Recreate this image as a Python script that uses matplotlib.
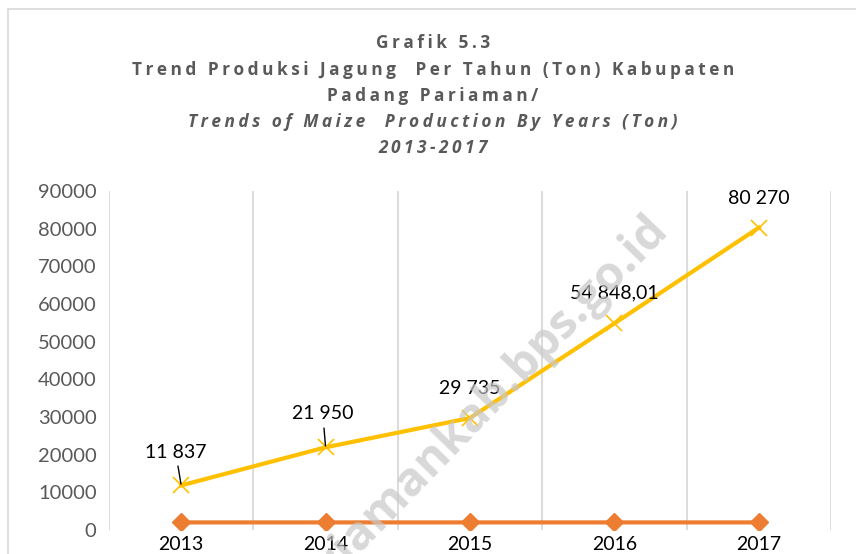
import numpy as np
import matplotlib.pyplot as plt
from matplotlib.patches import Rectangle

years = ['2013', '2014', '2015', '2016', '2017']
production = [11837, 21950, 29735, 54848.01, 80270]
year_series = [2013, 2014, 2015, 2016, 2017]
point_labels = ['11 837', '21 950', '29 735', '54 848,01', '80 270']
yticks = [0, 10000, 20000, 30000, 40000, 50000, 60000, 70000, 80000, 90000]

title_lines = [
    ('Grafik 5.3', 'normal'),
    ('Trend Produksi Jagung  Per Tahun (Ton) Kabupaten', 'normal'),
    ('Padang Pariaman/', 'normal'),
    ('Trends of Maize  Production By Years (Ton)', 'italic'),
    ('2013-2017', 'italic'),
]


def spaced(s):
    # fake letter spacing, excel title style
    return '\u2009'.join(s)


W, H = 856, 554
fig = plt.figure(figsize=(W / 100, H / 100), dpi=100)
ax = fig.add_axes([109 / W, 1 - 530 / H, (831 - 109) / W, (530 - 191) / H])

# chart area border
fig.patches.append(Rectangle((8 / W, -0.1), 1.2, 1 - 9 / H + 0.1, transform=fig.transFigure,
                             fill=False, edgecolor='#d9d9d9', lw=1.2))

x = np.arange(1, len(years) + 1)
ax.plot(x, production, color='#FFC000', lw=3, marker='x', ms=11, mew=1.2, zorder=3)
ax.plot(x, year_series, color='#ED7D31', lw=3, marker='D', ms=9, zorder=3)

ax.set_xlim(0.5, len(years) + 0.5)
ax.set_ylim(0, 90000)
for b in np.arange(0.5, len(years) + 1, 1.0):
    ax.axvline(b, color='#d9d9d9', lw=1.3, zorder=1)

ax.set_xticks(x)
ax.set_xticklabels(years, fontsize=14, family='Lato', color='black')
ax.set_yticks(yticks)
ax.set_yticklabels([str(v) for v in yticks], fontsize=14.5, family='Lato', color='#595959')
ax.tick_params(length=0)
ax.tick_params(axis='y', pad=9)
ax.tick_params(axis='x', pad=4)
for s in ax.spines.values():
    s.set_visible(False)

offsets = [(-4, 24), (-2, 24), (0, 21), (0, 22), (0, 21)]
for i, lab in enumerate(point_labels):
    if i < 2:
        ax.annotate(lab, (x[i], production[i]), xytext=offsets[i], textcoords='offset points',
                    ha='center', va='center', fontsize=14, family='Lato', color='black',
                    arrowprops=dict(arrowstyle='-', color='black', lw=1, shrinkA=2, shrinkB=1))
    else:
        ax.annotate(lab, (x[i], production[i]), xytext=offsets[i], textcoords='offset points',
                    ha='center', va='center', fontsize=14, family='Lato', color='black')

ys = [43, 70, 96, 122, 148]
for (line, style), yy in zip(title_lines, ys):
    fig.text(433 / W, 1 - yy / H, spaced(line), ha='center', va='center', fontsize=12.4,
             fontweight='bold', style=style, color='#595959', family=['Open Sans', 'DejaVu Sans'])

# watermark
fig.text(660 / W, 1 - 222 / H, 'pariamankab.bps.go.id', ha='right', va='center',
         rotation=46, rotation_mode='anchor', fontsize=34, fontweight='bold',
         color='#c8c8c8', alpha=0.7, family='Open Sans', zorder=5)

fig.savefig('out.png', dpi=100)
